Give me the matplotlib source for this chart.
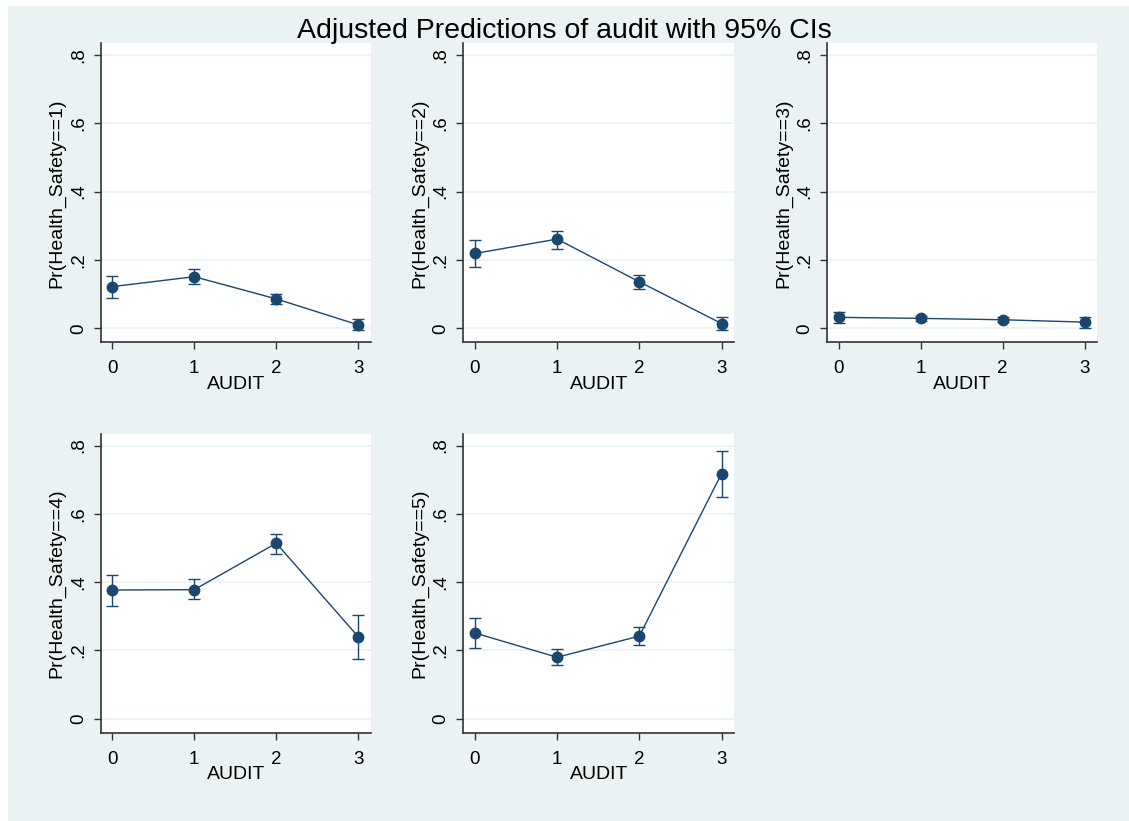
import matplotlib

matplotlib.use("Agg")
import matplotlib.pyplot as plt
from matplotlib.patches import Rectangle

plt.rcParams["font.family"] = ["Liberation Sans", "DejaVu Sans"]

audit = [0, 1, 2, 3]
outcomes = [1, 2, 3, 4, 5]

# predicted probabilities and 95% CI bounds, one list per outcome level
pred_1 = [0.122, 0.151, 0.086, 0.010]
lo_1 = [0.090, 0.130, 0.071, -0.005]
hi_1 = [0.152, 0.174, 0.100, 0.026]

pred_2 = [0.219, 0.261, 0.136, 0.014]
lo_2 = [0.180, 0.233, 0.115, -0.005]
hi_2 = [0.258, 0.285, 0.157, 0.034]

pred_3 = [0.032, 0.029, 0.025, 0.018]
lo_3 = [0.016, 0.021, 0.017, 0.002]
hi_3 = [0.048, 0.037, 0.034, 0.032]

pred_4 = [0.377, 0.378, 0.514, 0.240]
lo_4 = [0.330, 0.350, 0.482, 0.176]
hi_4 = [0.422, 0.408, 0.542, 0.304]

pred_5 = [0.251, 0.180, 0.242, 0.718]
lo_5 = [0.208, 0.158, 0.216, 0.650]
hi_5 = [0.294, 0.204, 0.269, 0.785]

preds = [pred_1, pred_2, pred_3, pred_4, pred_5]
los = [lo_1, lo_2, lo_3, lo_4, lo_5]
his = [hi_1, hi_2, hi_3, hi_4, hi_5]

yticks = [0, 0.2, 0.4, 0.6, 0.8]
ytick_labels = ["0", ".2", ".4", ".6", ".8"]

NAVY = "#1a476f"
BG = "#eaf2f3"
W, H = 1129, 821

fig = plt.figure(figsize=(W / 100, H / 100), dpi=100, facecolor="white")
fig.patches.append(Rectangle((8 / W, 0), 1 - 8 / W, 1 - 6 / H, transform=fig.transFigure,
                             facecolor=BG, edgecolor="none", zorder=-10))

# axes boxes in pixels: (left, right) per column, (top, bottom) per row
cols = [(100.7, 371.0), (463.3, 734.3), (827.0, 1097.3)]
rows = [(43.3, 342.3), (434.0, 732.7)]

for k, lev in enumerate(outcomes):
    r, c = divmod(k, 3)
    x0, x1 = cols[c]
    t, b = rows[r]
    ax = fig.add_axes([x0 / W, 1 - b / H, (x1 - x0) / W, (b - t) / H])
    ax.set_facecolor("white")
    y = preds[k]
    yerr = [[y[i] - los[k][i] for i in range(4)], [his[k][i] - y[i] for i in range(4)]]
    ax.errorbar(audit, y, yerr=yerr, fmt="none", ecolor=NAVY, elinewidth=1.0,
                capsize=4.5, capthick=1.0, zorder=3)
    ax.plot(audit, y, color=NAVY, lw=1.0, marker="o", ms=7.5, zorder=4)
    ax.set_xlim(-0.141, 3.155)
    ax.set_ylim(-0.041, 0.834)
    ax.set_xticks(audit)
    ax.set_yticks(yticks)
    ax.set_yticklabels(ytick_labels, rotation=90, va="center")
    ax.grid(axis="y", color=BG, lw=1.2, zorder=0)
    for s in ("top", "right"):
        ax.spines[s].set_visible(False)
    for s in ("left", "bottom"):
        ax.spines[s].set_color("#333333")
        ax.spines[s].set_linewidth(1.2)
    ax.tick_params(axis="both", labelsize=13.5, length=5, width=1, color="#333333", pad=5)
    ax.tick_params(axis="x", pad=8)
    ax.set_xlabel("AUDIT", fontsize=14, labelpad=-1)
    ax.set_ylabel(f"Pr(Health_Safety=={lev})", fontsize=14, labelpad=3)

fig.text(0.5, 1 - 31 / H, "Adjusted Predictions of audit with 95% CIs", ha="center", va="center",
         fontsize=20.5)

fig.savefig("out.png", dpi=100, facecolor="white")
